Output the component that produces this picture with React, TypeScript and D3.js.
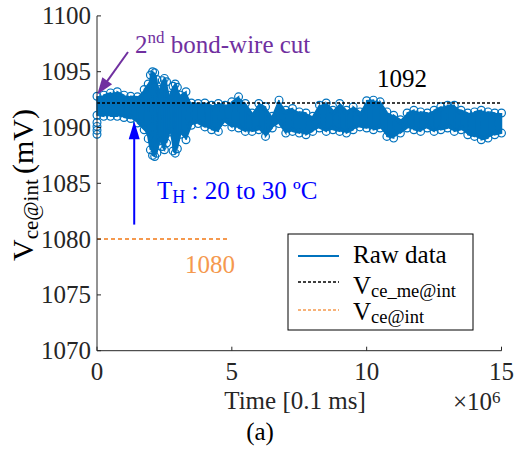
import React from 'react';
import * as d3 from 'd3';

// Time in units of 1e6 x 0.1 ms
const timeE6 = [0, 0.25, 0.5, 0.75, 1.0, 1.25, 1.5,
  1.75, 1.9, 1.98, 2.06, 2.14, 2.22, 2.32, 2.42, 2.5, 2.58, 2.7, 2.82, 2.9, 2.98, 3.1, 3.3, 3.5,
  3.75, 4.0, 4.25, 4.5, 4.75, 5.0, 5.25, 5.5, 5.75, 6.0, 6.25, 6.5, 6.75, 7.0, 7.25, 7.5, 7.75, 8.0, 8.25, 8.5, 8.75,
  9.0, 9.25, 9.5, 9.75, 10.0, 10.25, 10.5, 10.75, 11.0, 11.25, 11.5, 11.75, 12.0, 12.25, 12.5, 12.75, 13.0, 13.25,
  13.5, 13.75, 14.0, 14.25, 14.5, 14.75, 15.0];
// Raw data upper envelope (mV)
const upperMv = [1092.8, 1092.9, 1093.1, 1093.2, 1092.9, 1092.8, 1092.75,
  1093.4, 1093.9, 1094.7, 1095.0, 1094.9, 1094.3, 1093.4, 1094.2, 1094.4, 1094.1, 1092.9, 1093.7, 1093.9, 1093.6, 1092.9, 1093.2, 1092.2,
  1092.15, 1092.2, 1092.0, 1092.15, 1092.0, 1092.3, 1092.75, 1092.15, 1091.3, 1092.15, 1091.85, 1091.0, 1092.45, 1091.55, 1091.7, 1091.4, 1091.3, 1091.0, 1092.0, 1092.2, 1091.55,
  1092.15, 1091.55, 1091.85, 1091.4, 1092.4, 1092.45, 1092.3, 1091.4, 1091.1, 1090.7, 1091.3, 1091.55, 1091.4, 1091.3, 1091.55, 1091.85, 1092.0, 1092.0,
  1091.55, 1091.3, 1091.4, 1091.55, 1091.4, 1091.3, 1091.3];
// Raw data lower envelope (mV)
const lowerMv = [1091.1, 1091.0, 1091.0, 1091.0, 1090.9, 1090.8, 1090.4,
  1089.8, 1089.0, 1088.0, 1087.5, 1087.4, 1087.7, 1088.8, 1088.3, 1088.0, 1088.6, 1089.6, 1087.9, 1087.7, 1088.1, 1089.4, 1088.9, 1090.2,
  1090.35, 1090.05, 1089.8, 1089.65, 1090.5, 1090.05, 1089.95, 1089.65, 1089.65, 1089.8, 1089.2, 1089.95, 1090.35, 1089.5, 1089.65, 1089.5, 1089.35, 1089.65, 1089.95, 1089.65, 1089.8,
  1089.65, 1089.5, 1089.8, 1090.05, 1089.95, 1089.8, 1089.95, 1089.2, 1089.05, 1089.5, 1089.95, 1089.8, 1089.65, 1089.95, 1089.65, 1089.8, 1089.95, 1089.65,
  1089.8, 1089.35, 1089.2, 1088.9, 1089.05, 1089.35, 1089.5];
// First samples right after the cut
const startMv = [1089.4, 1089.75, 1090.1, 1090.45];

const meanMv = 1092.2;
const thresholdMv = 1080;
const thresholdEndE6 = 4.85;
const heatArrowE6 = 1.38;
const heatArrowFrom = 1081.3;
const heatArrowTo = 1090.55;

const yTicks = [1070, 1075, 1080, 1085, 1090, 1095, 1100];
const xTicks = [0, 5, 10, 15];

const BLUE = '#0072BD';
const ORANGE = '#F5994E';
const PURPLE = '#7030A0';
const AXIS = '#262626';
const FONT = '"Liberation Serif", "Times New Roman", serif';

function arrowHead(x1: number, y1: number, x2: number, y2: number, len: number, half: number) {
  const dx = x2 - x1, dy = y2 - y1;
  const L = Math.hypot(dx, dy);
  const ux = dx / L, uy = dy / L;
  const bx = x2 - ux * len, by = y2 - uy * len;
  const px = -uy, py = ux;
  return `${x2},${y2} ${bx + px * half},${by + py * half} ${bx - px * half},${by - py * half}`;
}

export default function App() {
  const x = d3.scaleLinear().domain([0, 15]).range([97, 501.5]);
  const y = d3.scaleLinear().domain([1070, 1100]).range([350.7, 15.9]);
  const idx = d3.range(timeE6.length);

  const area = d3.area<number>()
    .x((i) => x(timeE6[i]))
    .y0((i) => y(lowerMv[i]))
    .y1((i) => y(upperMv[i]));

  const zigPts: [number, number][] = idx.flatMap((i) =>
    i % 2 === 0
      ? [[timeE6[i], upperMv[i]], [timeE6[i], lowerMv[i]]] as [number, number][]
      : [[timeE6[i], lowerMv[i]], [timeE6[i], upperMv[i]]] as [number, number][]);
  const line = d3.line<[number, number]>().x((d) => x(d[0])).y((d) => y(d[1]));

  const circlePts: [number, number][] = [
    ...idx.map((i) => [timeE6[i], upperMv[i]] as [number, number]),
    ...idx.map((i) => [timeE6[i], lowerMv[i]] as [number, number]),
    ...startMv.map((v) => [0, v] as [number, number]),
  ];

  const pStart = { x: 128, y: 52 };
  const pTip = { x: x(0.01), y: y(1092.95) };
  const hx = x(heatArrowE6);

  return (
    <svg width={514} height={450} style={{ position: 'absolute', left: 0, top: 0, background: '#fff' }}
      fontFamily={FONT}>
      {/* data */}
      <path d={area(idx) || ''} fill={BLUE} />
      <path d={line(zigPts) || ''} fill="none" stroke={BLUE} strokeWidth={1.5} />
      {circlePts.map((d, i) => (
        <circle key={i} cx={x(d[0])} cy={y(d[1])} r={3.9} fill="none" stroke={BLUE} strokeWidth={1.2} />
      ))}
      {/* mean line */}
      <line x1={x(0)} x2={x(15)} y1={y(meanMv)} y2={y(meanMv)} stroke="#000" strokeWidth={1.5} strokeDasharray="3,2" />
      {/* threshold */}
      <line x1={x(0)} x2={x(thresholdEndE6)} y1={y(thresholdMv)} y2={y(thresholdMv)} stroke={ORANGE} strokeWidth={2} strokeDasharray="4,3" />

      {/* axes */}
      <line x1={97} x2={97} y1={y(1100)} y2={y(1070)} stroke={AXIS} strokeWidth={1} />
      <line x1={97} x2={x(15)} y1={y(1070)} y2={y(1070)} stroke={AXIS} strokeWidth={1} />
      {yTicks.map((t) => (
        <g key={t}>
          <line x1={97} x2={101} y1={y(t)} y2={y(t)} stroke={AXIS} />
          <text x={91} y={y(t) + 8.5} textAnchor="end" fontSize={25} fill={AXIS}>{t}</text>
        </g>
      ))}
      {xTicks.map((t) => (
        <g key={t}>
          <line x1={x(t)} x2={x(t)} y1={y(1070)} y2={y(1070) - 4} stroke={AXIS} />
          <text x={x(t)} y={380} textAnchor="middle" fontSize={25} fill={AXIS}>{t}</text>
        </g>
      ))}
      <text x={295} y={409} textAnchor="middle" fontSize={25} fill={AXIS}>Time [0.1 ms]</text>
      <text x={453} y={410} fontSize={25} fill={AXIS}>×10<tspan fontSize={17} dy={-7}>6</tspan></text>
      <text x={260} y={440} textAnchor="middle" fontSize={25} fill="#000">(a)</text>
      <text transform="translate(33,185) rotate(-90)" textAnchor="middle" fontSize={30} fill="#000">
        V<tspan fontSize={21} dy={5}>ce@int </tspan><tspan dy={-5}>(mV)</tspan>
      </text>

      {/* annotations */}
      <text x={377} y={86.5} fontSize={25} fill="#000">1092</text>
      <text x={210} y={273} textAnchor="middle" fontSize={25} fill={ORANGE}>1080</text>
      <line x1={hx} x2={hx} y1={y(heatArrowFrom)} y2={y(heatArrowTo) + 12} stroke="#0000FF" strokeWidth={2} />
      <polygon points={arrowHead(hx, y(heatArrowFrom), hx, y(heatArrowTo), 18, 5.5)} fill="#0000FF" />
      <text x={157} y={199} fontSize={25} fill="#0000FF">T<tspan fontSize={18} dy={4}>H</tspan><tspan dy={-4}> : 20 to 30 ºC</tspan></text>

      <line x1={pStart.x} y1={pStart.y} x2={pTip.x + 6} y2={pTip.y - 8} stroke={PURPLE} strokeWidth={2} />
      <polygon points={arrowHead(pStart.x, pStart.y, pTip.x, pTip.y, 17, 6)} fill={PURPLE} />
      <text x={135} y={53} fontSize={25} fill={PURPLE}>2<tspan fontSize={17} dy={-10}>nd</tspan><tspan dy={10}> bond-wire cut</tspan></text>

      {/* legend */}
      <rect x={288} y={234} width={185} height={96} fill="#fff" stroke="#000" strokeWidth={1} />
      <line x1={298} x2={339} y1={256} y2={256} stroke={BLUE} strokeWidth={2} />
      <text x={353} y={263} fontSize={25} fill="#000">Raw data</text>
      <line x1={298} x2={339} y1={282} y2={282} stroke="#000" strokeWidth={1.5} strokeDasharray="3,2" />
      <text x={353} y={294} fontSize={25} fill="#000">V<tspan fontSize={18.5} dy={3}>ce_me@int</tspan></text>
      <line x1={298} x2={339} y1={310} y2={310} stroke={ORANGE} strokeWidth={1.5} strokeDasharray="3,2" />
      <text x={353} y={320} fontSize={25} fill="#000">V<tspan fontSize={18.5} dy={3}>ce@int</tspan></text>
    </svg>
  );
}
